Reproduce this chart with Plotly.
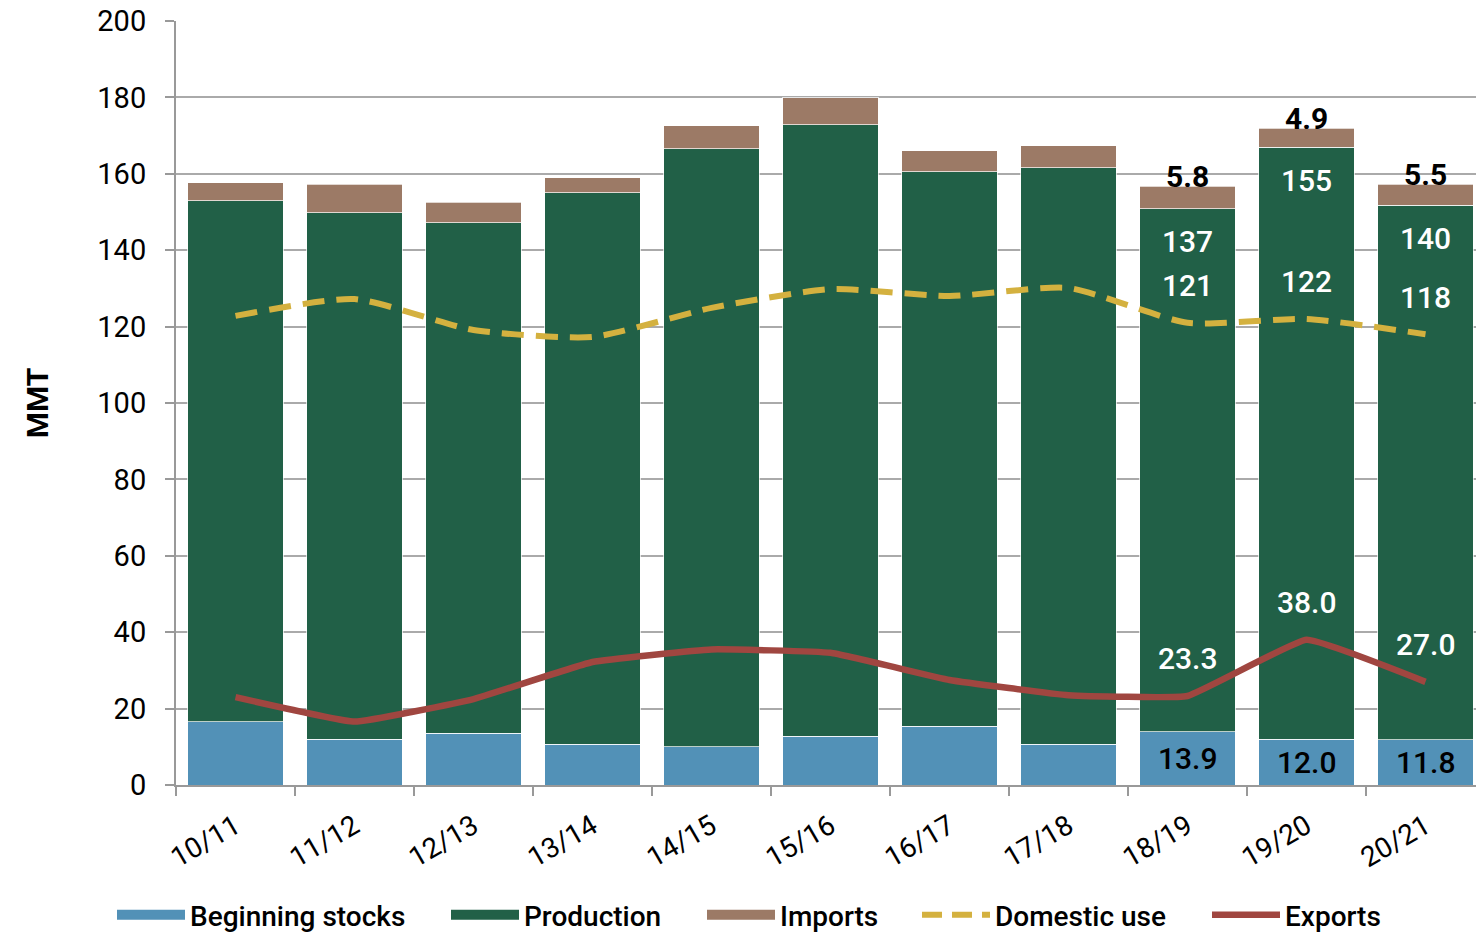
import plotly.graph_objects as go

years = ["10/11", "11/12", "12/13", "13/14", "14/15", "15/16", "16/17", "17/18", "18/19", "19/20", "20/21"]
beginning_stocks = [16.5, 12.0, 13.5, 10.7, 10.0, 12.7, 15.4, 10.7, 13.9, 12.0, 11.8]
production = [136.4, 137.8, 133.7, 144.4, 156.6, 160.2, 145.2, 150.9, 137.0, 155.0, 140.0]
imports = [4.7, 7.5, 5.3, 3.9, 6.0, 7.0, 5.4, 5.8, 5.8, 4.9, 5.5]
domestic_use = [122.8, 127.2, 119.1, 117.3, 124.9, 129.8, 128.0, 130.1, 121.0, 122.0, 118.0]
exports = [23.0, 16.6, 22.5, 32.2, 35.5, 34.6, 27.5, 23.5, 23.3, 38.0, 27.0]

labeled = ["18/19", "19/20", "20/21"]
imports_lbl = ["5.8", "4.9", "5.5"]
production_lbl = ["137", "155", "140"]
domestic_lbl = ["121", "122", "118"]
exports_lbl = ["23.3", "38.0", "27.0"]
stocks_lbl = ["13.9", "12.0", "11.8"]

FONT = "Roboto, sans-serif"
C_STOCK = "#5291B7"
C_PROD = "#216047"
C_IMP = "#9C7A66"
C_DOM = "#D4B13F"
C_EXP = "#A04640"

W, H = 1476, 935
ML, MR, MT, MB = 176, 0, 21, 150
CAT_PX = 119  # pixel width of one category slot (last slot is clipped by the right edge)
x_range = [-0.5, -0.5 + (W - ML - MR) / CAT_PX]

fig = go.Figure()
edge = dict(color="rgba(255,255,255,0.7)", width=1)
fig.add_trace(go.Bar(x=years, y=beginning_stocks, name="Beginning stocks", showlegend=False,
                     marker=dict(color=C_STOCK, line=edge)))
fig.add_trace(go.Bar(x=years, y=production, name="Production", showlegend=False,
                     marker=dict(color=C_PROD, line=edge)))
fig.add_trace(go.Bar(x=years, y=imports, name="Imports", showlegend=False,
                     marker=dict(color=C_IMP, line=edge)))
fig.add_trace(go.Scatter(x=years, y=domestic_use, name="Domestic use", showlegend=False, mode="lines",
                         line=dict(color=C_DOM, width=6, dash="22px,12px", shape="spline", smoothing=0.6)))
fig.add_trace(go.Scatter(x=years, y=exports, name="Exports", showlegend=False, mode="lines",
                         line=dict(color=C_EXP, width=6.5, shape="spline", smoothing=0.3)))

# legend entries, one legend each so they can be spaced like the original
legend_items = [("Beginning stocks", C_STOCK, 16, "solid", 117),
                ("Production", C_PROD, 16, "solid", 451),
                ("Imports", C_IMP, 16, "solid", 707),
                ("Domestic use", C_DOM, 6, "20px,10px", 922),
                ("Exports", C_EXP, 6.5, "solid", 1212)]
legend_layout = {}
for n, (name, col, w, dash, px) in enumerate(legend_items):
    key = "legend" if n == 0 else f"legend{n + 1}"
    fig.add_trace(go.Scatter(x=[None], y=[None], name=name, mode="lines", legend=key,
                             line=dict(color=col, width=w, dash=dash)))
    legend_layout[key] = dict(orientation="h", xref="container", yref="container",
                              x=(px - 5) / W, xanchor="left",
                              y=1 - 915 / H, yanchor="middle",
                              font=dict(family=FONT, size=28, color="black", weight=500),
                              itemwidth=68, bgcolor="rgba(0,0,0,0)")

idx = {y: i for i, y in enumerate(years)}
for k, yr in enumerate(labeled):
    i = idx[yr]
    total = beginning_stocks[i] + production[i] + imports[i]
    top_prod = beginning_stocks[i] + production[i]
    fig.add_annotation(x=yr, y=total, text=imports_lbl[k], showarrow=False, yanchor="middle", yshift=10,
                       font=dict(family=FONT, size=30, color="black", weight="bold"))
    fig.add_annotation(x=yr, y=top_prod, text=production_lbl[k], showarrow=False, yanchor="middle", yshift=-33,
                       font=dict(family=FONT, size=30, color="white", weight=500))
    fig.add_annotation(x=yr, y=domestic_use[i], text=domestic_lbl[k], showarrow=False, yanchor="middle", yshift=37,
                       font=dict(family=FONT, size=30, color="white", weight=500))
    fig.add_annotation(x=yr, y=exports[i], text=exports_lbl[k], showarrow=False, yanchor="middle", yshift=37,
                       font=dict(family=FONT, size=30, color="white", weight=500))
    fig.add_annotation(x=yr, y=beginning_stocks[i] / 2, text=stocks_lbl[k], showarrow=False, yanchor="middle",
                       font=dict(family=FONT, size=30, color="black", weight=500))

fig.update_layout(
    width=W, height=H,
    margin=dict(l=ML, r=MR, t=MT, b=MB),
    paper_bgcolor="white", plot_bgcolor="white",
    barmode="stack", bargap=0.2,
    font=dict(family=FONT, size=29, color="black"),
    xaxis=dict(range=x_range, showline=True, linecolor="#999999", linewidth=2, ticks="outside",
               tickson="boundaries",
               ticklen=9, tickcolor="#999999", tickwidth=2, tickangle=-30, automargin=False,
               ticklabelstandoff=12,
               tickfont=dict(family=FONT, size=28), showgrid=False),
    yaxis=dict(range=[0, 200], dtick=20, showline=True, linecolor="#999999", linewidth=2,
               ticks="outside", ticklen=9, tickcolor="#999999", tickwidth=2,
               gridcolor="#AAAAAA", gridwidth=2, zeroline=False, automargin=False,
               ticklabelstandoff=13,
               tickfont=dict(family=FONT, size=29),
               title=dict(text="<b>MMT</b>", font=dict(family=FONT, size=30), standoff=40)),
    **legend_layout,
)

fig.write_html("out.html", config={"displayModeBar": False},
               post_script="document.body.style.margin='0px';")
